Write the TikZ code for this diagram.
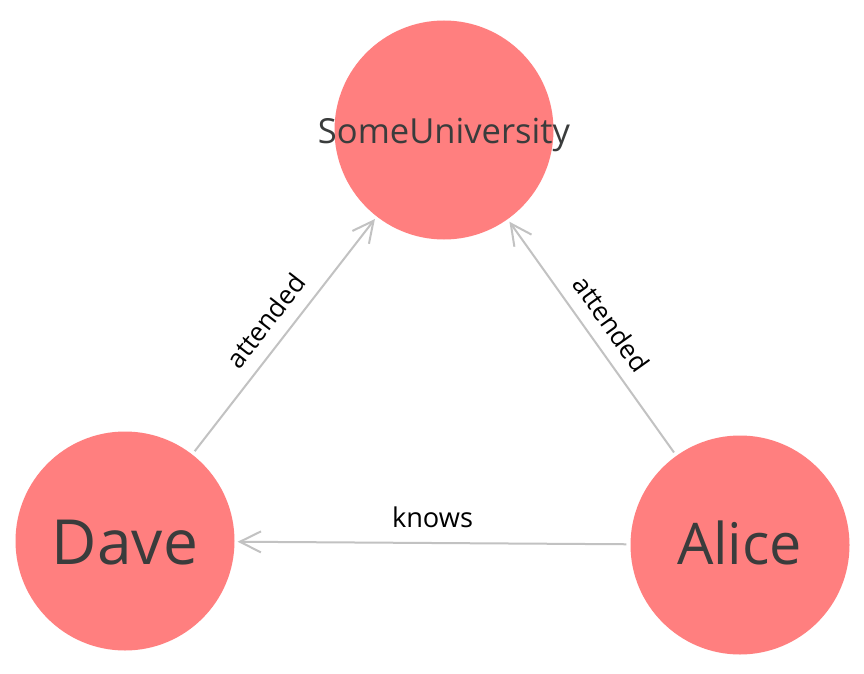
\documentclass[tikz,border=0pt]{standalone}
\usepackage{fontspec}
\setmainfont{Open Sans}
\usetikzlibrary{arrows.meta}
\definecolor{nodefill}{HTML}{FF7F7F}
\definecolor{nodetext}{HTML}{3A3C3C}
\definecolor{edgegray}{HTML}{C2C2C2}
\tikzset{
  entity/.style={circle, fill=nodefill, draw=none, minimum size=219pt, inner sep=0pt},
  entitytext/.style={anchor=base, inner sep=0pt, text=nodetext},
  relation/.style={draw=edgegray, line width=2pt, shorten <=4pt, shorten >=3pt,
    -{Straight Barb[length=21pt, width=21pt, line width=2pt]}},
  rellabel/.style={inner sep=0pt, text=black, anchor=south}
}
\begin{document}
\begin{tikzpicture}[x=1pt, y=-1pt]
\useasboundingbox[fill=white] (0,0) rectangle (864,674);
\node[entity] (uni) at (444,130) {};
\node[entity] (dave) at (125,541) {};
\node[entity] (alice) at (740,545) {};
\node[entitytext] (unitext) at (444,143) {\resizebox{252pt}{!}{SomeUniversity}};
\node[entitytext] (davetext) at (125,564) {\resizebox{146pt}{!}{Dave}};
\node[entitytext] (alicetext) at (739.5,564) {\resizebox{125pt}{!}{Alice}};
\draw[relation] (alice) -- node[rellabel, yshift=14pt] (knows) {\resizebox{81pt}{!}{knows}} (dave);
\draw[relation] (dave) -- node[rellabel, sloped, above=13pt] (att1) {\resizebox{110pt}{!}{attended}} (uni);
\draw[relation] (alice) -- node[rellabel, sloped, above=13pt] (att2) {\resizebox{110pt}{!}{attended}} (uni);
\end{tikzpicture}
\end{document}
